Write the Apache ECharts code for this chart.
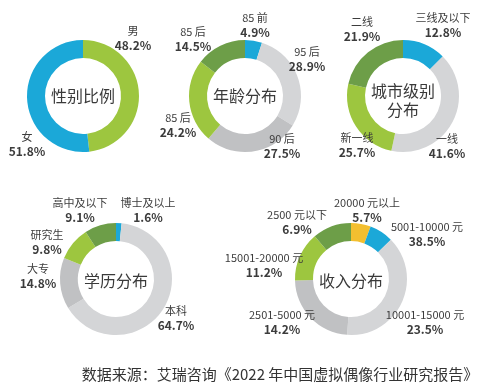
<!DOCTYPE html>
<html>
<head>
<meta charset="utf-8">
<script src="https://cdn.jsdelivr.net/npm/echarts@6/dist/echarts.min.js"></script>
<style>
html,body{margin:0;padding:0;background:#fff;}
#c{width:485px;height:392px;}
</style>
</head>
<body>
<div id="c"></div>
<script>
// ---- data ----
var genderNames = ['男', '女'];
var genderValues = [48.2, 51.8];

var ageNames = ['85 前', '95 后', '90 后', '85 后', '85 后'];
var ageValues = [4.9, 28.9, 27.5, 24.2, 14.5];

var cityNames = ['三线及以下', '一线', '新一线', '二线'];
var cityValues = [12.8, 41.6, 25.7, 21.9];

var eduNames = ['博士及以上', '本科', '大专', '研究生', '高中及以下'];
var eduValues = [1.6, 64.7, 14.8, 9.8, 9.1];

var incomeNames = ['20000 元以上', '2500 元以下', '5001-10000 元', '10001-15000 元', '2501-5000 元', '15001-20000 元'];
var incomeValues = [5.7, 6.9, 38.5, 23.5, 14.2, 11.2];

var centerTitles = ['性别比例', '年龄分布', '城市级别\n分布', '学历分布', '收入分布'];
var sourceText = '数据来源：艾瑞咨询《2022 年中国虚拟偶像行业研究报告》';

// ---- styles / layout ----
var BLUE = '#1ba8d8', LGREEN = '#9dc63f', DGREEN = '#6d9e48', LGRAY = '#d4d5d7', MGRAY = '#c0c1c3', YELLOW = '#f3bf30';

var charts = [
  {names: genderNames, values: genderValues, center: [83, 96], colors: [LGREEN, BLUE],
   labelPos: [[133, 38], [27, 144]], titlePos: [83, 96]},
  {names: ageNames, values: ageValues, center: [245, 96], colors: [BLUE, LGRAY, MGRAY, LGREEN, DGREEN],
   labelPos: [[255, 25], [307, 59], [282, 146], [178, 125], [193, 39]], titlePos: [245, 96]},
  {names: cityNames, values: cityValues, center: [403, 96], colors: [BLUE, LGRAY, LGREEN, DGREEN],
   labelPos: [[443, 25], [447, 146], [357, 145], [362, 29]], titlePos: [403, 100]},
  {names: eduNames, values: eduValues, center: [116, 279], colors: [BLUE, LGRAY, MGRAY, LGREEN, DGREEN],
   labelPos: [[148, 210], [176, 318], [38, 276], [47, 242], [80, 210]], titlePos: [116, 281]},
  {names: incomeNames, values: incomeValues, center: [351, 279], colors: [YELLOW, BLUE, LGRAY, MGRAY, LGREEN, DGREEN],
   labelPos: [[367, 210], [297, 222], [427, 234], [425, 322], [282, 322], [264, 265]], titlePos: [351, 281]}
];

var FONT = '"Noto Sans CJK SC", "Noto Sans", sans-serif';

var series = charts.map(function (c, si) {
  return {
    type: 'pie',
    center: c.center,
    radius: [38, 56],
    startAngle: 90,
    clockwise: true,
    avoidLabelOverlap: false,
    silent: true,
    animation: false,
    itemStyle: {borderWidth: 0},
    data: c.names.map(function (n, i) {
      return {name: n, value: c.values[i], itemStyle: {color: c.colors[i]}};
    }),
    label: {
      show: true,
      position: 'outside',
      formatter: function (p) { return '{n|' + p.name + '}\n{p|' + p.value + '%}'; },
      rich: {
        n: {fontFamily: FONT, fontSize: 11, color: '#3c3c3c', lineHeight: 14, align: 'center'},
        p: {fontFamily: FONT, fontSize: 12, fontWeight: 'bold', color: '#3c3c3c', lineHeight: 14, align: 'center'}
      }
    },
    labelLine: {show: false},
    labelLayout: function (params) {
      var pos = charts[si].labelPos[params.dataIndex];
      return {x: pos[0], y: pos[1], align: 'center', verticalAlign: 'middle'};
    }
  };
});

var graphics = charts.map(function (c, i) {
  return {
    type: 'text',
    x: c.titlePos[0], y: c.titlePos[1],
    style: {text: centerTitles[i], font: '16px ' + FONT, fill: '#3a3a3a', align: 'center', verticalAlign: 'middle', lineHeight: 19}
  };
});
graphics.push({
  type: 'text', x: 280, y: 374,
  style: {text: sourceText, font: '15px ' + FONT, fill: '#333', align: 'center', verticalAlign: 'middle'}
});

var chart = echarts.init(document.getElementById('c'), null, {renderer: 'canvas'});
chart.setOption({
  backgroundColor: '#fff',
  animation: false,
  series: series,
  graphic: graphics
});
</script>
</body>
</html>
